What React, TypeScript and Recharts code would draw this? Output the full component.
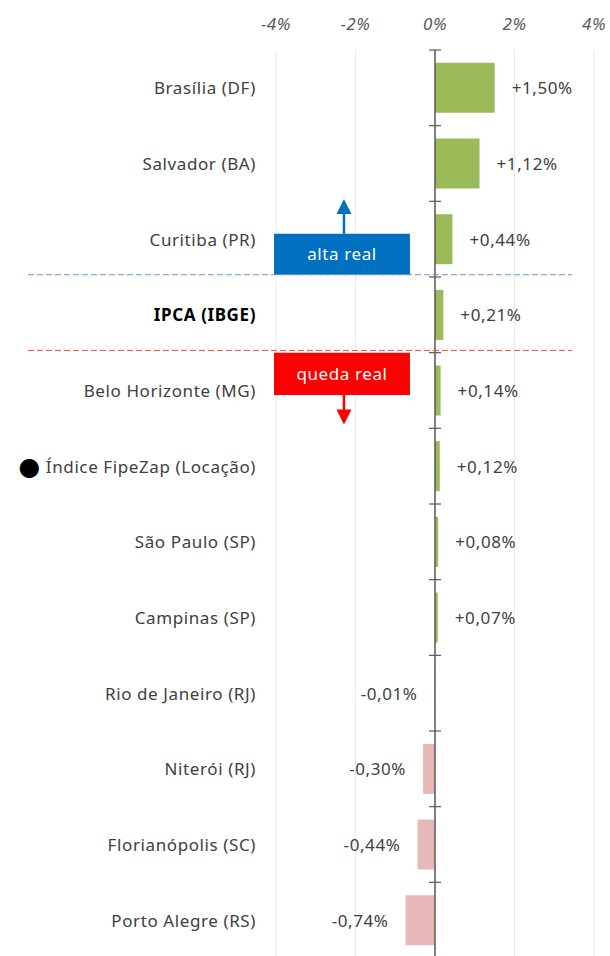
import React from "react";
import {
  BarChart,
  Bar,
  XAxis,
  YAxis,
  CartesianGrid,
  Cell,
  LabelList,
  ReferenceLine,
  ReferenceArea,
  ReferenceDot,
} from "recharts";

// Real rent change by city vs IPCA
const cities = [
  "Brasília (DF)",
  "Salvador (BA)",
  "Curitiba (PR)",
  "IPCA (IBGE)",
  "Belo Horizonte (MG)",
  "Índice FipeZap (Locação)",
  "São Paulo (SP)",
  "Campinas (SP)",
  "Rio de Janeiro (RJ)",
  "Niterói (RJ)",
  "Florianópolis (SC)",
  "Porto Alegre (RS)",
];
const changes = [1.5, 1.12, 0.44, 0.21, 0.14, 0.12, 0.08, 0.07, -0.01, -0.3, -0.44, -0.74];
const xTicks = [-4, -2, 0, 2, 4];
const rowBoundaries = [0, 1, 2, 3, 4, 5, 6, 7, 8, 9, 10, 11, 12];

const FONT = '"Noto Sans", sans-serif';
const FS = 17;
const LS = 0.6;
const POS = "#9BBB59";
const NEG = "#E6B8B7";
const TEXT = "#404040";

// row = middle of each band on the hidden 0..12 row axis
const data = cities.map((name, i) => ({ name, value: changes[i], row: i + 0.5 }));

const fmt = (v: number) =>
  (v > 0 ? "+" : "-") + Math.abs(v).toFixed(2).replace(".", ",") + "%";

function CityTick(props: any) {
  const { x, y, payload } = props;
  const name: string = payload.value;
  const isIpca = name === "IPCA (IBGE)";
  const isIndex = name.startsWith("Índice");
  return (
    <text
      x={x}
      y={y}
      textAnchor="end"
      dominantBaseline="central"
      fontFamily={FONT}
      fontSize={FS}
      letterSpacing={LS}
      fontWeight={isIpca ? 700 : 400}
      fill={isIpca ? "#000" : TEXT}
    >
      {isIndex ? (
        <>
          <tspan fill="#000" fontFamily='"DejaVu Sans"' fontSize={25}>●</tspan>
          <tspan> {name}</tspan>
        </>
      ) : (
        name
      )}
    </text>
  );
}

function ValueLabel(props: any) {
  const { x, y, width, height, value } = props;
  const v = Number(value);
  const left = Math.min(x, x + width);
  const right = Math.max(x, x + width);
  const tip = v >= 0 ? right + 17 : left - 17;
  return (
    <text
      x={tip}
      y={y + height / 2}
      textAnchor={v >= 0 ? "start" : "end"}
      dominantBaseline="central"
      fontFamily={FONT}
      fontSize={FS}
      letterSpacing={LS}
      fill={TEXT}
    >
      {fmt(v)}
    </text>
  );
}

const arrowHead = (color: string, up: boolean) => (p: any) => {
  const { cx, cy } = p;
  const d = up
    ? `M${cx},${cy} L${cx - 7.5},${cy + 15} L${cx + 7.5},${cy + 15} Z`
    : `M${cx},${cy} L${cx - 7.5},${cy - 15} L${cx + 7.5},${cy - 15} Z`;
  return <path d={d} fill={color} />;
};

export default function App() {
  return (
    <div
      style={{
        position: "absolute",
        left: 0,
        top: 0,
        width: 610,
        height: 956,
        overflow: "hidden",
        background: "#fff",
      }}
    >
      <BarChart
        width={610}
        height={958}
        data={data}
        layout="vertical"
        margin={{ top: 0, right: 16, left: 0, bottom: 0 }}
        barCategoryGap="17%"
      >
        <CartesianGrid horizontal={false} stroke="#EBEBEB" />
        <XAxis
          type="number"
          orientation="top"
          domain={[-4, 4]}
          ticks={xTicks}
          height={50}
          axisLine={false}
          tickLine={false}
          tickSize={0}
          tickMargin={20}
          tickFormatter={(v: number) => `${v}%`}
          tick={{
            fontFamily: FONT,
            fontSize: FS,
            letterSpacing: LS,
            fontStyle: "italic",
            fill: "#595959",
          }}
        />
        <YAxis
          type="category"
          dataKey="name"
          width={276}
          axisLine={false}
          tickLine={false}
          tickSize={0}
          tickMargin={20}
          interval={0}
          tick={<CityTick />}
        />
        <YAxis
          yAxisId="rows"
          type="number"
          dataKey="row"
          domain={[0, 12]}
          hide
          allowDataOverflow
        />
        <Bar dataKey="value" isAnimationActive={false}>
          {data.map((d, i) => (
            <Cell key={`c-${i}`} fill={d.value >= 0 ? POS : NEG} />
          ))}
          <LabelList dataKey="value" content={<ValueLabel />} />
        </Bar>

        {/* zero axis with tick marks between rows */}
        <ReferenceLine x={0} stroke="#595959" strokeWidth={1.5} />
        {rowBoundaries.map((k) => (
          <ReferenceLine
            key={`t-${k}`}
            yAxisId="rows"
            segment={[
              { x: -0.15, y: k },
              { x: 0.15, y: k },
            ]}
            stroke="#595959"
            strokeWidth={1.2}
            ifOverflow="visible"
          />
        ))}

        {/* IPCA separators */}
        <ReferenceLine
          yAxisId="rows"
          segment={[
            { x: -10.24, y: 2.97 },
            { x: 3.45, y: 2.97 },
          ]}
          stroke="#6895CF"
          strokeDasharray="6 3"
          ifOverflow="visible"
        />
        <ReferenceLine
          yAxisId="rows"
          segment={[
            { x: -10.24, y: 3.97 },
            { x: 3.45, y: 3.97 },
          ]}
          stroke="#FF4545"
          strokeDasharray="6 3"
          ifOverflow="visible"
        />

        {/* alta real */}
        <ReferenceLine
          yAxisId="rows"
          segment={[
            { x: -2.29, y: 2.43 },
            { x: -2.29, y: 2.1 },
          ]}
          stroke="#0070C0"
          strokeWidth={2.5}
          ifOverflow="visible"
        />
        <ReferenceDot
          yAxisId="rows"
          x={-2.29}
          y={1.97}
          r={1}
          ifOverflow="visible"
          shape={arrowHead("#0070C0", true)}
        />
        <ReferenceArea
          yAxisId="rows"
          x1={-4.05}
          x2={-0.63}
          y1={2.43}
          y2={2.97}
          fill="#0070C0"
          fillOpacity={1}
          ifOverflow="visible"
          label={{
            value: "alta real",
            position: "center",
            fill: "#fff",
            fontSize: FS,
            letterSpacing: LS,
            fontFamily: FONT,
          }}
        />

        {/* queda real */}
        <ReferenceLine
          yAxisId="rows"
          segment={[
            { x: -2.29, y: 4.56 },
            { x: -2.29, y: 4.8 },
          ]}
          stroke="#FF0000"
          strokeWidth={2.5}
          ifOverflow="visible"
        />
        <ReferenceDot
          yAxisId="rows"
          x={-2.29}
          y={4.95}
          r={1}
          ifOverflow="visible"
          shape={arrowHead("#FF0000", false)}
        />
        <ReferenceArea
          yAxisId="rows"
          x1={-4.05}
          x2={-0.63}
          y1={4.0}
          y2={4.56}
          fill="#FF0000"
          fillOpacity={1}
          ifOverflow="visible"
          label={{
            value: "queda real",
            position: "center",
            fill: "#fff",
            fontSize: FS,
            letterSpacing: LS,
            fontFamily: FONT,
          }}
        />
      </BarChart>
    </div>
  );
}
